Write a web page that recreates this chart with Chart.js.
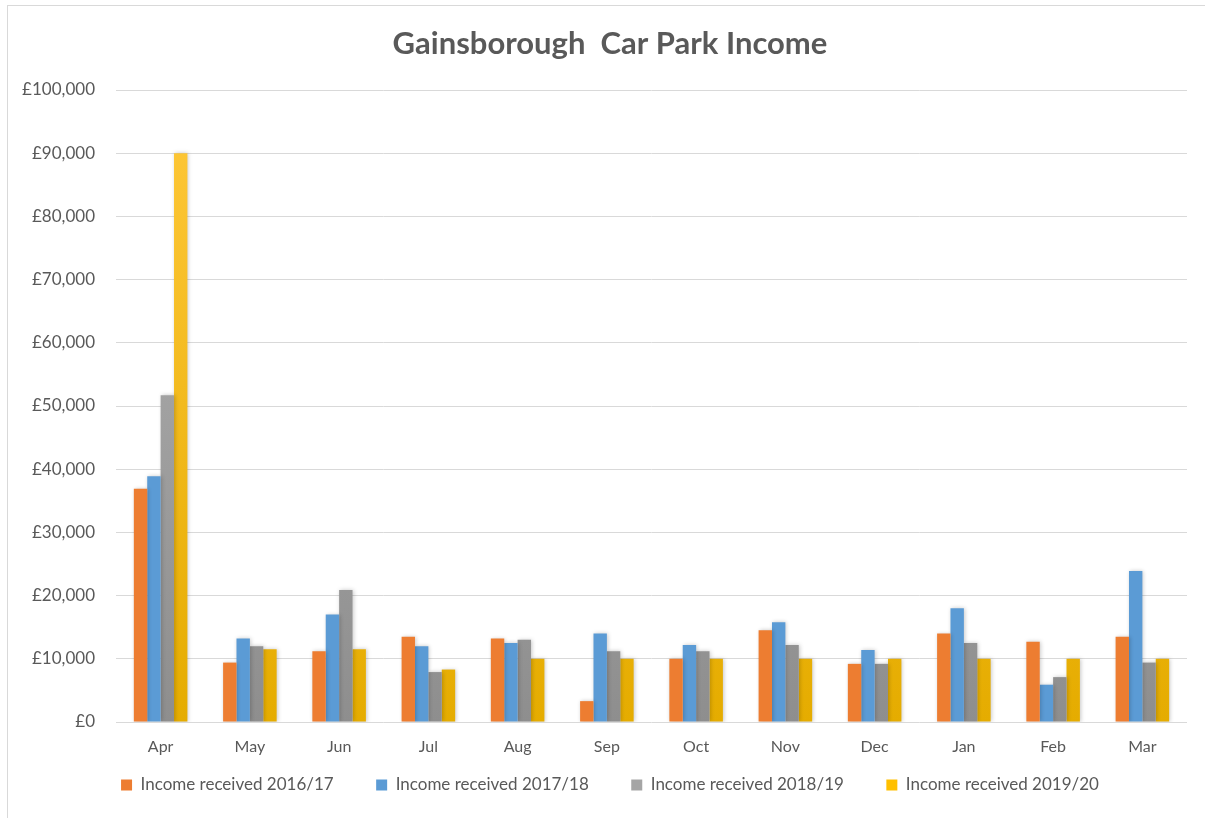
<!DOCTYPE html>
<html>
<head>
<meta charset="utf-8">
<script src="https://cdn.jsdelivr.net/npm/chart.js@4.4.1/dist/chart.umd.min.js"></script>
<style>
  html, body { margin: 0; padding: 0; background: #fff; }
  #wrap { position: relative; width: 1205px; height: 818px; overflow: hidden; }
  #frame { position: absolute; left: 7px; top: 5px; width: 1400px; height: 1000px;
           border-top: 1px solid #d9d9d9; border-left: 1px solid #d9d9d9; }
  canvas { position: absolute; left: 0; top: 0; }
</style>
</head>
<body>
<div id="wrap">
  <div id="frame"></div>
  <canvas id="c" width="1205" height="818"></canvas>
</div>
<script>
const chartTitle = 'Gainsborough  Car Park Income';
const months = ['Apr','May','Jun','Jul','Aug','Sep','Oct','Nov','Dec','Jan','Feb','Mar'];
const seriesNames = ['Income received 2016/17','Income received 2017/18','Income received 2018/19','Income received 2019/20'];
const income2016 = [36900, 9400, 11200, 13500, 13200, 3300, 10000, 14500, 9200, 14000, 12700, 13500];
const income2017 = [38900, 13200, 17000, 12000, 12500, 14000, 12200, 15800, 11400, 18000, 5900, 23900];
const income2018 = [51700, 12000, 20900, 7900, 13000, 11200, 11200, 12200, 9200, 12500, 7100, 9400];
const income2019 = [90000, 11500, 11500, 8300, 10000, 10000, 10000, 10000, 10000, 10000, 10000, 10000];
const yTicks = { min: 0, max: 100000, step: 10000 };

const FONT = 'Lato, "Open Sans", sans-serif';
const TXT = '#595959';

function grad(top, bottom) {
  return (ctx) => {
    const ch = ctx.chart;
    const area = ch.chartArea;
    if (!area) return bottom;
    const g = ch.ctx.createLinearGradient(0, area.top, 0, area.bottom);
    g.addColorStop(0, top);
    g.addColorStop(1, bottom);
    return g;
  };
}

const ds = [
  { label: seriesNames[0], data: income2016, backgroundColor: '#ED7D31' },
  { label: seriesNames[1], data: income2017, backgroundColor: '#5B9BD5' },
  { label: seriesNames[2], data: income2018, backgroundColor: grad('#B4B4B4', '#8E8E8E'), legendColor: '#A5A5A5' },
  { label: seriesNames[3], data: income2019, backgroundColor: grad('#FFC83A', '#E5AC00'), legendColor: '#FFC000' }
].map(d => Object.assign(d, { barPercentage: 1.0, categoryPercentage: 0.6, borderWidth: 0 }));

const barShadow = {
  id: 'barShadow',
  beforeDatasetsDraw(chart) {
    const c = chart.ctx;
    c.save();
    c.shadowColor = 'rgba(0,0,0,0.22)';
    c.shadowBlur = 4;
    c.shadowOffsetX = 1;
    c.shadowOffsetY = 0;
  },
  afterDatasetsDraw(chart) { chart.ctx.restore(); }
};

new Chart(document.getElementById('c'), {
  type: 'bar',
  data: { labels: months, datasets: ds },
  plugins: [barShadow],
  options: {
    responsive: false,
    animation: false,
    devicePixelRatio: 1,
    layout: { padding: { left: 0, right: -15, top: 0, bottom: 14.5 } },
    plugins: {
      tooltip: { enabled: false },
      title: {
        display: true,
        text: chartTitle,
        color: TXT,
        font: { family: FONT, size: 31, weight: 'bold' },
        padding: { top: 25, bottom: 27.8 }
      },
      legend: {
        position: 'bottom',
        labels: {
          color: TXT,
          font: { family: FONT, size: 17 },
          boxWidth: 11,
          boxHeight: 11,
          padding: 42.5,
          generateLabels: (chart) => chart.data.datasets.map((d, i) => ({
            text: d.label,
            fillStyle: d.legendColor || d.backgroundColor,
            strokeStyle: 'rgba(0,0,0,0)',
            lineWidth: 0,
            datasetIndex: i,
            fontColor: TXT
          }))
        }
      }
    },
    scales: {
      x: {
        grid: { display: false, drawTicks: false },
        border: { display: false },
        ticks: { color: TXT, font: { family: FONT, size: 16 }, mirror: true, padding: -34.6 },
        afterFit: (s) => { s.height = 12; }
      },
      y: {
        min: yTicks.min, max: yTicks.max,
        grid: { color: '#d9d9d9', lineWidth: 1, drawTicks: false },
        border: { display: false },
        ticks: {
          stepSize: yTicks.step,
          color: TXT,
          padding: 21,
          font: { family: FONT, size: 17 },
          callback: (v) => '£' + Number(v).toLocaleString('en-GB')
        },
        afterFit: (s) => { s.width = 116; }
      },
      spacer: {
        type: 'linear',
        position: 'right',
        display: true,
        grid: { display: false, drawTicks: false },
        border: { display: false },
        ticks: { display: false },
        afterFit: (s) => { s.width = 33; }
      }
    }
  }
});
</script>
</body>
</html>
